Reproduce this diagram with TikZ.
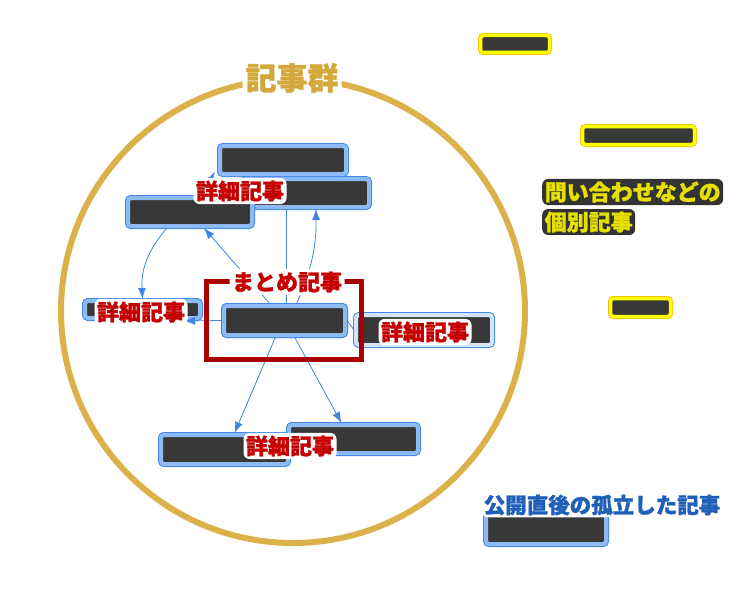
\documentclass[tikz,border=0pt]{standalone}
\usepackage{fontspec}
\newfontfamily\jpfont{Noto Sans CJK JP}[BoldFeatures={FakeBold=1.2}]
\usetikzlibrary{arrows.meta}

\definecolor{ringgold}{HTML}{DBB24A}
\definecolor{titlegold}{HTML}{D4A83C}
\definecolor{boxdark}{HTML}{383838}
\definecolor{boxline}{HTML}{3F88E6}
\definecolor{boxband}{HTML}{8DBAF2}
\definecolor{paleband}{HTML}{D3E5FB}
\definecolor{hiline}{HTML}{F2B705}
\definecolor{hiband}{HTML}{FFFF00}
\definecolor{arrowblue}{HTML}{3D85E6}
\definecolor{tagred}{HTML}{C40000}
\definecolor{bracketred}{HTML}{A80000}
\definecolor{notetext}{HTML}{E6E000}
\definecolor{notehalo}{HTML}{333333}
\definecolor{newblue}{HTML}{1F5FB8}

\begin{document}
\begin{tikzpicture}[x=1pt, y=-1pt,
    article/.style={rectangle, rounded corners=3pt, inner sep=0pt, fill=boxdark,
      draw=boxband, line width=4pt, preaction={draw=boxline, line width=6pt}},
    paleart/.style={article, draw=paleband},
    inquiry/.style={rectangle, rounded corners=3pt, inner sep=0pt, fill=boxdark,
      draw=hiband, line width=3.5pt, preaction={draw=hiline, line width=5pt}},
    tag/.style={fill=white, rounded corners=6pt, inner sep=2.5pt, text=tagred,
      font=\jpfont\bfseries\fontsize{22}{22}\selectfont},
    note/.style={fill=notehalo, rounded corners=6pt, inner sep=2.5pt, text=notetext,
      font=\jpfont\bfseries\fontsize{22}{22}\selectfont},
    link/.style={arrowblue, line width=0.8pt, -{Latex[length=11pt,width=8pt]}},
    plainlink/.style={arrowblue, line width=0.8pt}]
    \useasboundingbox (0,0) rectangle (738,591);

    % Draw the ring round the articles
    \draw[ringgold, line width=6pt] (293,311) circle[radius=232pt];
    \node[fill=white, rounded corners=8pt, inner sep=3pt, text=titlegold,
      font=\jpfont\bfseries\fontsize{31}{31}\selectfont] (group) at (292,78) {記事群};

    % Draw the linked articles
    \node[article, minimum width=126pt, minimum height=28pt] (B) at (306,193) {};
    \node[article, minimum width=126pt, minimum height=28pt] (A) at (283,160) {};
    \node[article, minimum width=124pt, minimum height=28pt] (C) at (190,212) {};
    \node[article, minimum width=115pt, minimum height=17pt] (D) at (142.5,309.5) {};
    \node[article, minimum width=129pt, minimum height=28pt] (G) at (353.5,439) {};
    \node[article, minimum width=127pt, minimum height=29pt] (F) at (224.5,449.5) {};
    \node[article, minimum width=121pt, minimum height=29pt] (M) at (284.5,320.5) {};
    \node[paleart, minimum width=136pt, minimum height=30pt] (E) at (424,330) {};

    % Draw the links
    \draw[link] (M) -- (C);
    \draw[plainlink] ([xshift=2pt]M.north) -- ([xshift=2pt]M.north |- B.south);
    \draw[link] ([xshift=12pt]M.north) to[bend right=12] ([xshift=10pt]B.south);
    \draw[link] ([xshift=10pt]C.north) -- ([xshift=-3pt,yshift=4pt]A.south west);
    \draw[link] ([xshift=-23pt]C.south) to[bend right=22] (D.north);
    \draw[link] (M.west) -- ([xshift=-18pt,yshift=-1pt]D.south east);
    \draw[link] ([xshift=-9pt]M.south) -- ([xshift=10pt]F.north);
    \draw[link] ([xshift=10pt]M.south) -- ([xshift=-12pt]G.north);
    \draw[plainlink] (M.east) -- (E.west);

    % Draw the summary bracket
    \draw[bracketred, line width=5pt] (206.5,281.5) rectangle (361.5,359.5);
    \node[article, minimum width=121pt, minimum height=29pt] at (M) {};

    % Draw the labels
    \node[tag] (summary) at (287,282) {まとめ記事};
    \node[tag] (detailA) at (240,191) {詳細記事};
    \node[tag] (detailD) at (141,312) {詳細記事};
    \node[tag] (detailE) at (425,332) {詳細記事};
    \node[tag] (detailF) at (290,446) {詳細記事};

    % Draw the separate articles
    \node[inquiry, minimum width=69pt, minimum height=17pt] (Y1) at (515,44) {};
    \node[inquiry, minimum width=112pt, minimum height=18pt] (Y2) at (638.5,135.5) {};
    \node[inquiry, minimum width=60pt, minimum height=18pt] (Y3) at (640.5,307.5) {};
    \node[note, anchor=west] (inquiryA) at (542,192) {問い合わせなどの};
    \node[note, anchor=west] (inquiryB) at (542,222) {個別記事};

    % Draw the isolated article
    \node[article, minimum width=120pt, minimum height=31pt] (H) at (546,528.5) {};
    \node[fill=white, rounded corners=6pt, inner sep=2pt, text=newblue,
      font=\jpfont\bfseries\fontsize{21.5}{21.5}\selectfont] (isolated) at (602,505)
      {公開直後の孤立した記事};
\end{tikzpicture}
\end{document}
